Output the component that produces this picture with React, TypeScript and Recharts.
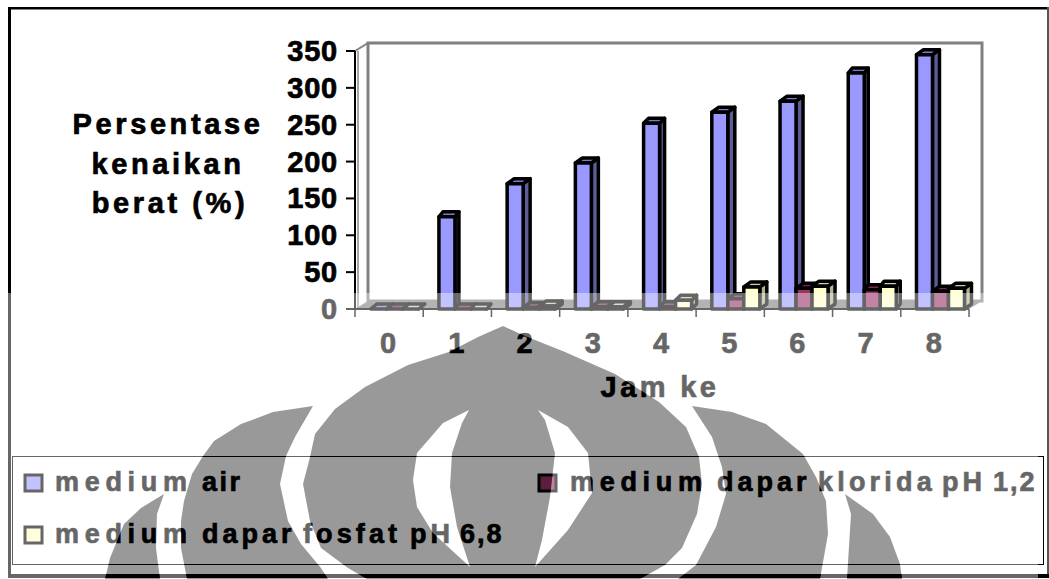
import { BarChart, Bar, XAxis, YAxis, Legend } from "recharts";

const HOURS = ["0", "1", "2", "3", "4", "5", "6", "7", "8"];
const MEDIUM_AIR = [0, 125, 170, 198, 252, 267, 282, 320, 345];
const MEDIUM_KLORIDA = [0, 0, 2, 3, 3, 14, 28, 26, 24];
const MEDIUM_FOSFAT = [0, 0, 4, 3, 12, 30, 31, 31, 28];
const Y_TICKS = [0, 50, 100, 150, 200, 250, 300, 350];

const rows = HOURS.map((hour, i) => ({
  hour,
  air: MEDIUM_AIR[i],
  klorida: MEDIUM_KLORIDA[i],
  fosfat: MEDIUM_FOSFAT[i],
}));

const WIDTH = 1049;
const HEIGHT = 579;
const PLOT = { left: 355, top: 51, right: 969, bottom: 309 };
const WALL_DX = 13;
const WALL_DY = 8;
const BAND = (PLOT.right - PLOT.left) / HOURS.length;

const LABEL = {
  fontFamily: "'Liberation Sans', Arial, sans-serif",
  fontWeight: 700,
  fill: "#000",
  stroke: "#000",
  strokeWidth: 0.7,
};

// side face width per category, the thin ones close up to solid black
const BAR_DEPTH = [6, 4, 7, 7, 5, 7, 7, 4, 7];
const BAR_SHIFT = 5;

const SHADES: Record<string, { side: string; top: string }> = {
  "#9999ff": { side: "#5c5c99", top: "#7a7acc" },
  "#993366": { side: "#5c1f3d", top: "#7a2952" },
  "#ffffcc": { side: "#b3b38f", top: "#cccca3" },
};

// per word x and letter spacing of the legend entries
const LEGEND_WORDS = [
  { y: 491, markerX: 25, markerY: 475, x: [55, 202], spacing: [5.7, 2.5] },
  { y: 491, markerX: 539, markerY: 475, x: [570, 717, 818, 942, 993], spacing: [5.7, 4, 4.2, 4, 2] },
  { y: 543, markerX: 25, markerY: 527, x: [55, 202, 303, 410, 460], spacing: [5.7, 4, 4.1, 4, 2] },
];

// university crest printed across the lower half of the page
const CREST: number[][][] = [
  // centre body
  [[503, 326], [478, 337], [449, 352], [408, 365], [365, 387], [335, 409], [315, 434], [310, 457], [303, 484], [310, 521], [321, 548], [348, 568], [367, 579],
   [640, 579], [665, 565], [682, 548], [697, 514], [702, 484], [699, 457], [686, 427], [659, 402], [615, 374], [565, 352], [525, 336]],
  // centre crescents
  [[469, 410], [443, 423], [417, 453], [413, 480], [417, 507], [433, 533], [470, 567], [457, 527], [450, 487], [452, 453], [462, 423]],
  [[538, 410], [568, 427], [588, 453], [592, 493], [568, 530], [535, 567], [542, 540], [550, 497], [555, 453], [545, 420]],
  // inner wings
  [[313, 406], [273, 412], [241, 424], [214, 441], [203, 456], [192, 474], [184, 501], [181, 521], [181, 548], [187, 579], [328, 579], [321, 568], [301, 544], [288, 521], [280, 484], [286, 456], [295, 437]],
  [[692, 406], [732, 412], [766, 424], [803, 454], [816, 477], [826, 501], [828, 534], [820, 579], [678, 579], [696, 565], [716, 527], [726, 494], [722, 467], [712, 437]],
  // outer wings
  [[164, 494], [141, 508], [124, 524], [110, 558], [105, 579], [160, 579], [156, 548], [157, 514]],
  [[845, 494], [873, 514], [890, 537], [900, 564], [902, 579], [847, 579], [851, 514]],
];

const crestPath = CREST.map((shape) => "M" + shape.map((p) => p.join(",")).join("L") + "Z").join("");

function Bar3D(props: any) {
  const { x, y, width, height, fill, index } = props;
  const d = BAR_DEPTH[index];
  const lift = 5;
  const left = x + BAR_SHIFT;
  const right = left + width;
  const bottom = y + height;
  const shade = SHADES[fill];
  return (
    <g stroke="#000" strokeWidth={3.5} strokeLinejoin="round">
      <polygon
        points={`${right},${y} ${right + d},${y - lift} ${right + d},${bottom - lift} ${right},${bottom}`}
        fill={shade.side}
      />
      <polygon
        points={`${left},${y} ${left + d},${y - lift} ${right + d},${y - lift} ${right},${y}`}
        fill={shade.top}
      />
      <rect x={left} y={y} width={width} height={height} fill={fill} />
    </g>
  );
}

function Walls() {
  const { left, top, right, bottom } = PLOT;
  const backL = left + WALL_DX;
  const backR = right + WALL_DX;
  const backT = top - WALL_DY;
  const backB = bottom - WALL_DY;
  return (
    <g>
      <rect x={8} y={7} width={WIDTH - 8} height={2.5} fill="#000" />
      <rect x={8} y={7} width={3} height={HEIGHT - 8} fill="#000" />
      <rect x={8} y={574} width={WIDTH - 8} height={4} fill="#000" />
      <rect x={1047} y={7} width={2} height={567} fill="#555" />
      <rect x={backL} y={backT} width={backR - backL} height={backB - backT} fill="#fff" stroke="#808080" strokeWidth={3} />
      <line x1={left} y1={top} x2={backL} y2={backT} stroke="#808080" strokeWidth={2} />
      <line x1={left + 3} y1={top} x2={left + 3} y2={bottom} stroke="#a6a6a6" strokeWidth={2} />
      <polygon points={`${left},${bottom} ${backL},${backB} ${backR},${backB} ${right},${bottom}`} fill="#808080" />
    </g>
  );
}

function HourTick(props: any) {
  const { x, payload, index } = props;
  const edge = x - BAND / 2;
  const last = index === HOURS.length - 1;
  return (
    <g>
      <line x1={edge} y1={PLOT.bottom} x2={edge} y2={PLOT.bottom + 8} stroke="#000" strokeWidth={1.5} />
      {last && <line x1={PLOT.right} y1={PLOT.bottom} x2={PLOT.right} y2={PLOT.bottom + 8} stroke="#000" strokeWidth={1.5} />}
      <text x={x - 1} y={353} textAnchor="middle" fontSize={29} {...LABEL}>
        {payload.value}
      </text>
    </g>
  );
}

function PercentTick(props: any) {
  const { y, payload } = props;
  return (
    <text x={338} y={y + 10} textAnchor="end" fontSize={29} letterSpacing={0.8} {...LABEL}>
      {payload.value}
    </text>
  );
}

function HourTitle() {
  return (
    <text x={660} y={397} textAnchor="middle" fontSize={29} letterSpacing={3.4} {...LABEL}>
      Jam ke
    </text>
  );
}

function PercentTitle() {
  const lines = [
    { text: "Persentase", x: 168, y: 134 },
    { text: "kenaikan", x: 168, y: 174 },
    { text: "berat (%)", x: 170, y: 213 },
  ];
  return (
    <g>
      {lines.map((line) => (
        <text key={line.text} x={line.x} y={line.y} textAnchor="middle" fontSize={29} letterSpacing={3.6} {...LABEL}>
          {line.text}
        </text>
      ))}
    </g>
  );
}

function LegendBox({ payload }: any) {
  return (
    <svg width={WIDTH} height={HEIGHT} style={{ display: "block" }}>
      <rect x={12.5} y={456.5} width={1031} height={108} fill="none" stroke="#000" strokeWidth={1} />
      {(payload || []).map((entry: any, i: number) => {
        const place = LEGEND_WORDS[i];
        return (
          <g key={entry.value}>
            <rect x={place.markerX} y={place.markerY} width={17} height={16} fill={entry.color} stroke="#000" strokeWidth={3} />
            {String(entry.value).split(" ").map((word, w) => (
              <text key={w} x={place.x[w]} y={place.y} fontSize={27} letterSpacing={place.spacing[w]} {...LABEL}>
                {word}
              </text>
            ))}
          </g>
        );
      })}
    </svg>
  );
}

export default function App() {
  return (
    <div style={{ position: "absolute", left: 0, top: 0, width: WIDTH, height: HEIGHT, background: "#fff", overflow: "hidden" }}>
      <BarChart
        width={WIDTH}
        height={HEIGHT}
        data={rows}
        margin={{ top: PLOT.top, right: WIDTH - PLOT.right, bottom: 220, left: 0 }}
        barCategoryGap={10.7}
        barGap={0}
      >
        <Walls />
        <XAxis
          dataKey="hour"
          height={HEIGHT - PLOT.bottom - 220}
          interval={0}
          tickLine={false}
          axisLine={{ stroke: "#000", strokeWidth: 2 }}
          tick={<HourTick />}
        />
        <YAxis
          width={PLOT.left}
          domain={[0, 350]}
          ticks={Y_TICKS}
          interval={0}
          tickSize={9}
          axisLine={{ stroke: "#000", strokeWidth: 2 }}
          tickLine={{ stroke: "#000", strokeWidth: 2 }}
          tick={<PercentTick />}
        />
        <Bar dataKey="air" name="medium air" fill="#9999ff" isAnimationActive={false} shape={<Bar3D />} />
        <Bar dataKey="klorida" name="medium dapar klorida pH 1,2" fill="#993366" isAnimationActive={false} shape={<Bar3D />} />
        <Bar dataKey="fosfat" name="medium dapar fosfat pH 6,8" fill="#ffffcc" isAnimationActive={false} shape={<Bar3D />} />
        <PercentTitle />
        <HourTitle />
        <Legend
          layout="horizontal"
          align="center"
          verticalAlign="middle"
          itemSorter={null}
          wrapperStyle={{ left: 0, top: 0, width: WIDTH, height: HEIGHT, margin: 0 }}
          content={<LegendBox />}
        />
      </BarChart>
      <svg width={WIDTH} height={HEIGHT} style={{ position: "absolute", left: 0, top: 0, zIndex: 10, pointerEvents: "none" }}>
        <path d={`M0,293H1038V579H0Z${crestPath}`} fill="#fff" fillOpacity={0.4} fillRule="evenodd" />
        <path d={crestPath} fill="#000" fillOpacity={0.4} fillRule="evenodd" />
      </svg>
    </div>
  );
}
